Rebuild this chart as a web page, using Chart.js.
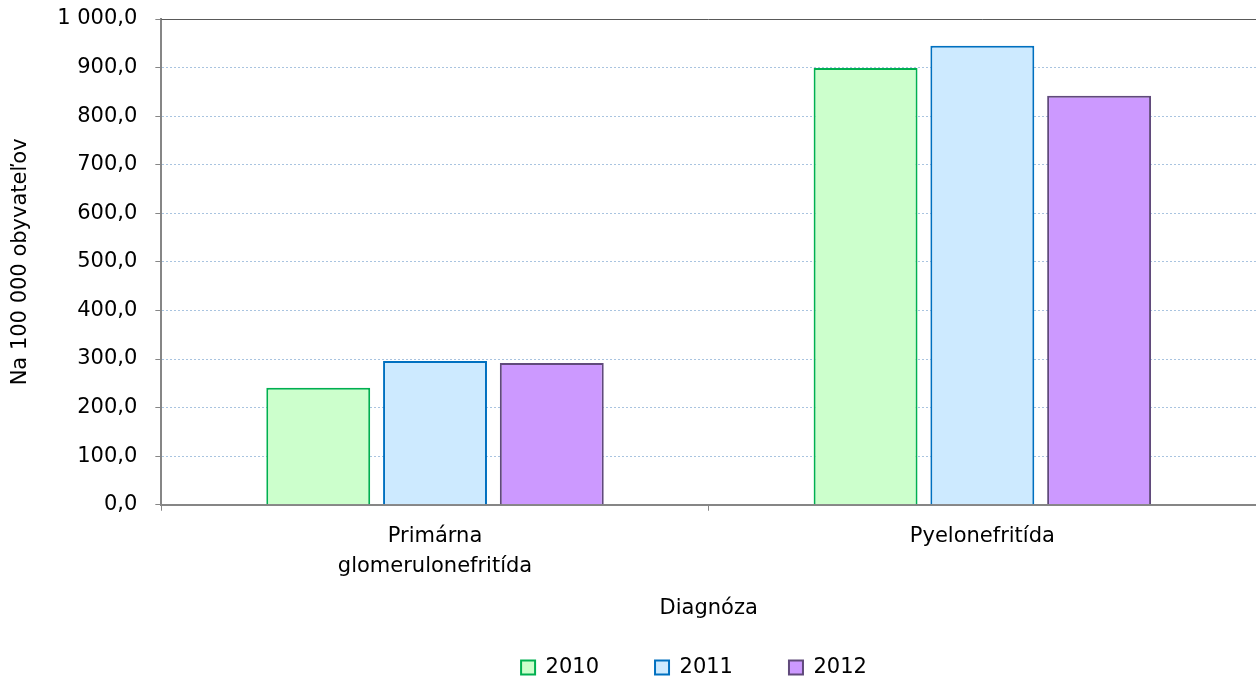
<!DOCTYPE html>
<html>
<head>
<meta charset="utf-8">
<script src="https://cdn.jsdelivr.net/npm/chart.js@4/dist/chart.umd.min.js"></script>
<style>
  html, body { margin: 0; padding: 0; background: #fff; }
  #wrap { width: 1256px; height: 679px; }
</style>
</head>
<body>
<div id="wrap"><canvas id="diag-bar"></canvas></div>
<script>
var categories = [["Primárna", "glomerulonefritída"], "Pyelonefritída"];
var years = ["2010", "2011", "2012"];
var values2010 = [241, 899];
var values2011 = [296, 945];
var values2012 = [292, 842];

var fillColors = ["#ccffcc", "#cdeaff", "#cc99ff"];
var lineColors = ["#00b050", "#0070c0", "#604a7b"];
var FONT = "'DejaVu Sans', sans-serif";
var FSIZE = 21;

// solid top border of plot area + move legend a bit right
var extras = {
	id: 'extras',
	afterLayout: function(chart) {
		chart.legend.left += 66;
		chart.legend.right += 66;
	},
	afterDraw: function(chart) {
		var a = chart.chartArea, ctx = chart.ctx;
		ctx.save();
		ctx.strokeStyle = '#595959';
		ctx.lineWidth = 1;
		ctx.beginPath();
		ctx.moveTo(a.left, Math.round(a.top) + 0.5);
		ctx.lineTo(a.right, Math.round(a.top) + 0.5);
		ctx.stroke();
		ctx.restore();
	}
};

new Chart(document.getElementById("diag-bar"), {
	type: 'bar',
	data: {
		labels: categories,
		datasets: [
			{ label: years[0], data: values2010, backgroundColor: fillColors[0], borderColor: lineColors[0], borderWidth: 2 },
			{ label: years[1], data: values2011, backgroundColor: fillColors[1], borderColor: lineColors[1], borderWidth: 2 },
			{ label: years[2], data: values2012, backgroundColor: fillColors[2], borderColor: lineColors[2], borderWidth: 2 }
		]
	},
	options: {
		responsive: true,
		maintainAspectRatio: false,
		animation: false,
		categoryPercentage: 0.64,
		barPercentage: 0.89,
		layout: { padding: { top: 19, right: 0, left: 0, bottom: -9 } },
		plugins: {
			title: { display: false },
			tooltip: { enabled: false },
			legend: {
				position: 'bottom',
				labels: {
					font: { family: FONT, size: FSIZE },
					color: '#000',
					boxWidth: 14,
					boxHeight: 14,
					padding: 56
				}
			}
		},
		scales: {
			x: {
				grid: { display: true, drawOnChartArea: false, offset: true, tickLength: 6, color: '#868686' },
				border: { color: '#868686', width: 2 },
				ticks: { font: { family: FONT, size: FSIZE, lineHeight: 1.43 }, color: '#000', padding: 11 },
				title: { display: true, text: 'Diagnóza', font: { family: FONT, size: FSIZE }, color: '#000', padding: { top: 3, bottom: -20 } }
			},
			y: {
				min: 0,
				max: 1000,
				afterFit: function(scale) { scale.paddingTop = 12; },
				ticks: {
					stepSize: 100,
					font: { family: FONT, size: FSIZE },
					color: '#000',
					padding: 18,
					callback: function(v) {
						var s = v.toFixed(1).replace('.', ',');
						return s.replace(/\B(?=(\d{3})+(?!\d))/g, ' ');
					}
				},
				grid: { color: '#a9c4e0', tickColor: '#868686', tickLength: 6, lineWidth: 1 },
				border: { color: '#868686', width: 2, dash: [2, 2] },
				title: { display: true, text: 'Na 100 000 obyvateľov', font: { family: FONT, size: FSIZE }, color: '#000', padding: { top: 8, bottom: 6 } }
			}
		}
	},
	plugins: [extras]
});
</script>
</body>
</html>
